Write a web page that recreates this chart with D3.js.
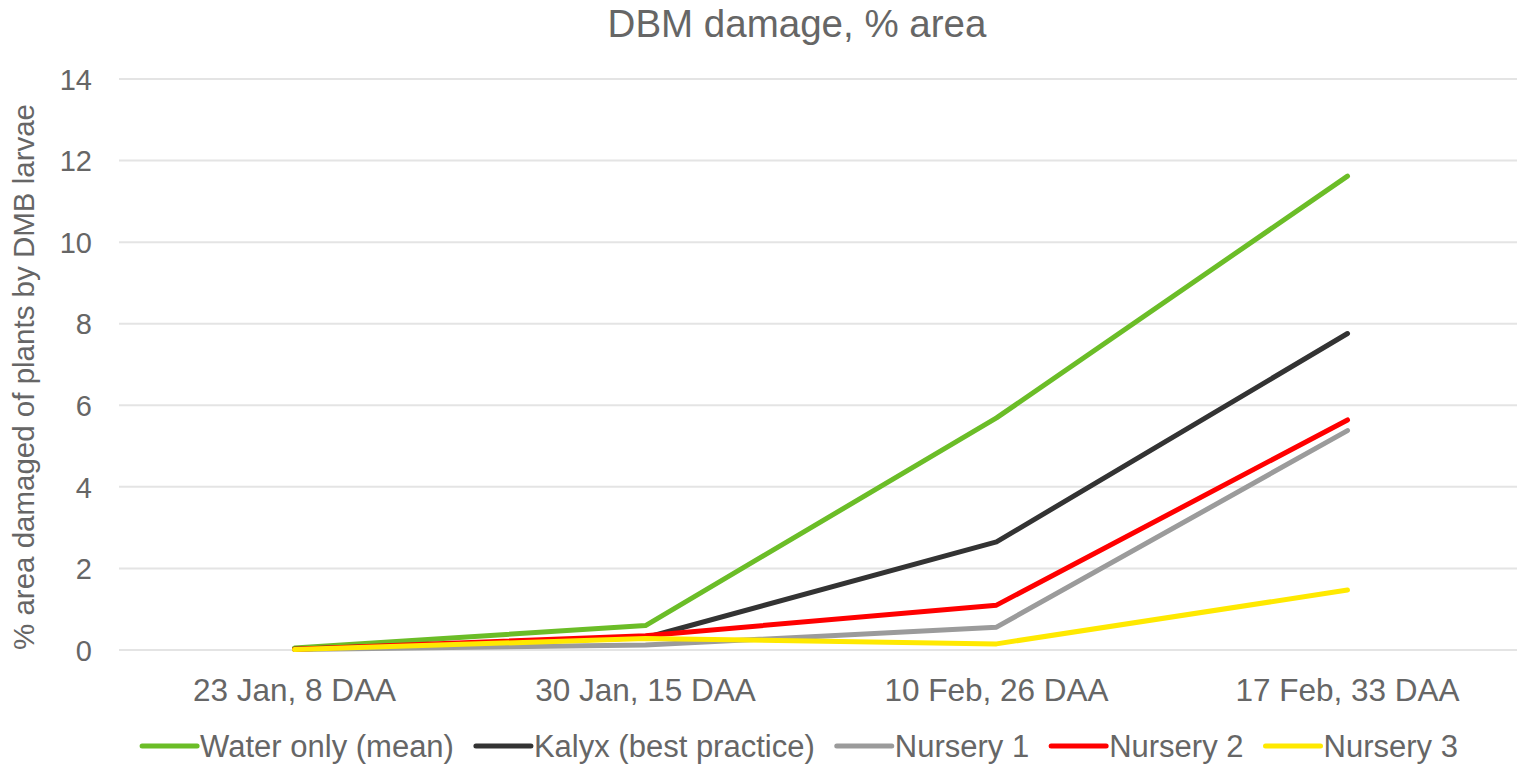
<!DOCTYPE html>
<html>
<head>
<meta charset="utf-8">
<script src="https://cdn.jsdelivr.net/npm/d3@7"></script>
<style>
  body { margin: 0; background: #fff; }
  text { font-family: "Liberation Sans", Arial, sans-serif; fill: #666666; }
</style>
</head>
<body>
<script>
// Data
const categories = ['23 Jan, 8 DAA', '30 Jan, 15 DAA', '10 Feb, 26 DAA', '17 Feb, 33 DAA'];
const waterOnly = [0.05, 0.6, 5.69, 11.62];
const kalyx = [0.02, 0.3, 2.65, 7.76];
const nursery1 = [0.01, 0.12, 0.56, 5.38];
const nursery2 = [0.02, 0.35, 1.1, 5.64];
const nursery3 = [0.01, 0.28, 0.15, 1.47];
const yTicks = [0, 2, 4, 6, 8, 10, 12, 14];

const series = [
  {name: 'Water only (mean)', values: waterOnly, color: '#6BBD27'},
  {name: 'Kalyx (best practice)', values: kalyx, color: '#333333'},
  {name: 'Nursery 1', values: nursery1, color: '#9B9B9B'},
  {name: 'Nursery 2', values: nursery2, color: '#FF0000'},
  {name: 'Nursery 3', values: nursery3, color: '#FFE900'}
];

const WIDTH = 1517;
const HEIGHT = 767;
const MARGIN = {top: 79, right: 0, bottom: 117, left: 119};

const svg = d3.select('body')
  .append('svg')
  .attr('width', WIDTH)
  .attr('height', HEIGHT);

// Scales
const xScale = d3.scaleBand()
  .domain(categories)
  .range([MARGIN.left, MARGIN.left + 4 * 351]);

const yScale = d3.scaleLinear()
  .domain([0, 14])
  .range([HEIGHT - MARGIN.bottom, MARGIN.top]);

// Gridlines
svg.append('g')
  .selectAll('line')
  .data(yTicks)
  .enter().append('line')
  .attr('x1', MARGIN.left)
  .attr('x2', WIDTH)
  .attr('y1', d => yScale(d))
  .attr('y2', d => yScale(d))
  .style('stroke', '#E4E4E4')
  .style('stroke-width', '2px');

// Y axis
const yAxis = d3.axisLeft(yScale).tickValues(yTicks).tickSize(0).tickPadding(0);
const yG = svg.append('g')
  .attr('transform', 'translate(92,0)')
  .call(yAxis);
yG.select('.domain').remove();
yG.selectAll('text')
  .style('font-size', '29px')
  .style('fill', '#666666')
  .attr('dy', '0.35em');

// X axis
const xAxis = d3.axisBottom(xScale).tickSize(0).tickPadding(0);
const xG = svg.append('g')
  .attr('transform', 'translate(0,' + (HEIGHT - MARGIN.bottom + 29) + ')')
  .call(xAxis);
xG.select('.domain').remove();
xG.selectAll('text')
  .style('font-size', '31.5px')
  .style('fill', '#666666')
  .attr('dy', '0.71em');

// Lines
const line = d3.line()
  .x((d, i) => xScale(categories[i]) + xScale.bandwidth() / 2)
  .y(d => yScale(d));

svg.append('g')
  .selectAll('path')
  .data(series)
  .enter().append('path')
  .attr('d', d => line(d.values))
  .style('fill', 'none')
  .style('stroke', d => d.color)
  .style('stroke-width', '5px')
  .style('stroke-linecap', 'round')
  .style('stroke-linejoin', 'round');

// Title
svg.append('text')
  .attr('x', 797)
  .attr('y', 37)
  .attr('text-anchor', 'middle')
  .style('font-size', '38.5px')
  .text('DBM damage, % area');

// Y axis title
svg.append('text')
  .attr('transform', 'translate(34,' + 377 + ') rotate(-90)')
  .attr('text-anchor', 'middle')
  .style('font-size', '29.5px')
  .text('% area damaged of plants by DMB larvae');

// Legend
const legend = svg.append('g').attr('class', 'legend');
const items = legend.selectAll('g')
  .data(series)
  .enter().append('g');
items.append('line')
  .attr('x1', 0).attr('x2', 55)
  .attr('y1', 0).attr('y2', 0)
  .style('stroke', d => d.color)
  .style('stroke-width', '5px')
  .style('stroke-linecap', 'round');
items.append('text')
  .attr('x', 58)
  .attr('dy', '0.35em')
  .style('font-size', '31px')
  .text(d => d.name);

let xPos = 0;
items.each(function() {
  const g = d3.select(this);
  g.attr('transform', 'translate(' + xPos + ',0)');
  xPos += 58 + g.select('text').node().getComputedTextLength() + 22;
});
const legendWidth = xPos - 22;
legend.attr('transform', 'translate(' + (800 - legendWidth / 2) + ',746)');
</script>
</body>
</html>
